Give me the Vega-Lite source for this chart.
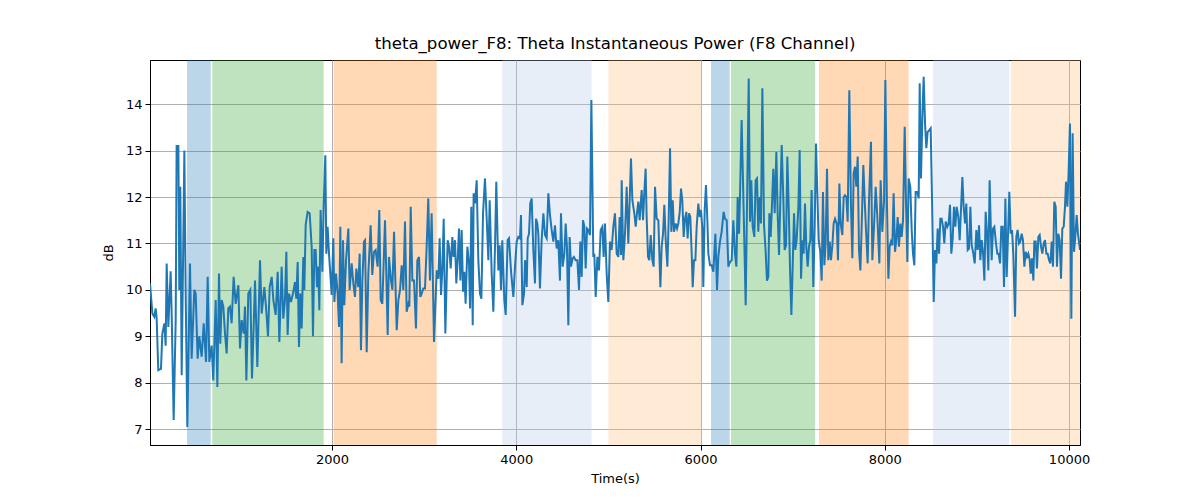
{
  "$schema": "https://vega.github.io/schema/vega-lite/v6.json",
  "width": 930,
  "height": 385,
  "autosize": {"type": "none"},
  "padding": {"left": 150, "top": 60, "right": 120, "bottom": 55},
  "background": "white",
  "title": {"text": "theta_power_F8: Theta Instantaneous Power (F8 Channel)", "font": "DejaVu Sans", "fontSize": 16.6, "fontWeight": "normal", "color": "black", "offset": 7},
  "config": {
    "view": {"stroke": "black", "strokeWidth": 1},
    "axis": {"domainColor": "black", "tickColor": "black", "labelFont": "DejaVu Sans", "labelFontSize": 13, "labelColor": "black", "titleFont": "DejaVu Sans", "titleFontSize": 13, "titleFontWeight": "normal", "titleColor": "black", "gridColor": "#b0b0b0", "gridWidth": 1, "tickSize": 5, "labelPadding": 3}
  },
  "datasets": {
    "bands": [
      {"start": 426, "end": 683, "kind": "A"},
      {"start": 700, "end": 1909, "kind": "B"},
      {"start": 2018, "end": 3136, "kind": "C"},
      {"start": 3848, "end": 4818, "kind": "D"},
      {"start": 4999, "end": 6013, "kind": "E"},
      {"start": 6114, "end": 6317, "kind": "A"},
      {"start": 6331, "end": 7243, "kind": "B"},
      {"start": 7286, "end": 8259, "kind": "C"},
      {"start": 8524, "end": 9352, "kind": "D"},
      {"start": 9370, "end": 10119, "kind": "E"}
    ],
    "series": [
      {"t":24,"v":10.14},{"t":50,"v":9.49},{"t":71,"v":9.42},{"t":85,"v":9.6},{"t":96,"v":9.4},{"t":114,"v":8.27},{"t":143,"v":8.3},{"t":158,"v":9.06},{"t":180,"v":9.28},{"t":194,"v":8.8},{"t":205,"v":10.57},{"t":223,"v":9.2},{"t":248,"v":10.4},{"t":259,"v":9.5},{"t":281,"v":7.2},{"t":303,"v":9.35},{"t":313,"v":13.1},{"t":332,"v":13.1},{"t":342,"v":10.0},{"t":353,"v":12.22},{"t":368,"v":8.16},{"t":397,"v":13.0},{"t":411,"v":10.0},{"t":429,"v":7.05},{"t":458,"v":10.57},{"t":476,"v":8.52},{"t":505,"v":10.0},{"t":520,"v":9.92},{"t":541,"v":8.52},{"t":559,"v":9.0},{"t":585,"v":8.56},{"t":607,"v":9.28},{"t":632,"v":8.45},{"t":650,"v":10.28},{"t":668,"v":8.45},{"t":693,"v":8.8},{"t":711,"v":8.05},{"t":737,"v":9.78},{"t":755,"v":7.91},{"t":773,"v":10.35},{"t":787,"v":8.84},{"t":802,"v":9.78},{"t":820,"v":9.64},{"t":838,"v":9.06},{"t":856,"v":8.63},{"t":874,"v":9.6},{"t":892,"v":9.64},{"t":910,"v":9.28},{"t":932,"v":10.28},{"t":954,"v":9.7},{"t":983,"v":10.1},{"t":1001,"v":8.74},{"t":1019,"v":9.35},{"t":1041,"v":9.06},{"t":1055,"v":9.64},{"t":1070,"v":8.05},{"t":1091,"v":9.92},{"t":1113,"v":10.0},{"t":1131,"v":8.09},{"t":1149,"v":9.2},{"t":1164,"v":10.2},{"t":1189,"v":8.34},{"t":1218,"v":10.64},{"t":1236,"v":9.49},{"t":1265,"v":10.06},{"t":1283,"v":9.64},{"t":1305,"v":9.0},{"t":1323,"v":10.06},
      {"t":1345,"v":10.28},{"t":1363,"v":9.78},{"t":1388,"v":9.46},{"t":1410,"v":10.39},{"t":1428,"v":8.88},{"t":1453,"v":10.5},{"t":1471,"v":9.38},{"t":1489,"v":9.78},{"t":1504,"v":10.82},{"t":1518,"v":9.03},{"t":1533,"v":9.92},{"t":1554,"v":9.74},{"t":1576,"v":9.92},{"t":1598,"v":10.17},{"t":1612,"v":9.81},{"t":1627,"v":10.6},{"t":1641,"v":8.77},{"t":1656,"v":9.92},{"t":1670,"v":9.17},{"t":1688,"v":10.71},{"t":1699,"v":10.0},{"t":1714,"v":11.4},{"t":1735,"v":11.68},{"t":1757,"v":11.65},{"t":1779,"v":10.93},{"t":1793,"v":9.0},{"t":1808,"v":10.86},{"t":1822,"v":10.86},{"t":1837,"v":10.06},{"t":1851,"v":10.5},{"t":1862,"v":9.56},{"t":1876,"v":11.72},{"t":1895,"v":10.39},{"t":1909,"v":11.79},{"t":1927,"v":12.9},{"t":1938,"v":10.78},{"t":1952,"v":11.36},{"t":1967,"v":10.78},{"t":1981,"v":10.35},{"t":1996,"v":9.89},{"t":2014,"v":11.11},{"t":2025,"v":9.74},{"t":2043,"v":10.35},{"t":2061,"v":9.92},{"t":2076,"v":9.2},{"t":2090,"v":11.36},{"t":2104,"v":8.42},{"t":2119,"v":11.07},{"t":2133,"v":9.67},{"t":2152,"v":10.64},{"t":2177,"v":11.32},{"t":2191,"v":10.0},{"t":2213,"v":10.57},{"t":2231,"v":10.14},{"t":2249,"v":9.85},{"t":2264,"v":10.46},{"t":2285,"v":10.06},{"t":2300,"v":10.78},{"t":2314,"v":8.7},{"t":2329,"v":10.2},{"t":2347,"v":11.04},{"t":2358,"v":11.07},{"t":2376,"v":8.66},{"t":2394,"v":10.35},{"t":2419,"v":11.39},{"t":2437,"v":10.32},{"t":2455,"v":10.82},{"t":2473,"v":10.86},{"t":2495,"v":10.5},{"t":2513,"v":11.72},{"t":2528,"v":9.78},{"t":2546,"v":9.7},{"t":2560,"v":10.57},{"t":2575,"v":11.5},{"t":2589,"v":10.35},{"t":2604,"v":9.03},{"t":2618,"v":10.71},
      {"t":2640,"v":10.2},{"t":2655,"v":10.0},{"t":2673,"v":11.25},{"t":2702,"v":9.13},{"t":2720,"v":9.78},{"t":2738,"v":10.0},{"t":2756,"v":10.53},{"t":2774,"v":10.0},{"t":2792,"v":11.47},{"t":2810,"v":9.53},{"t":2828,"v":9.7},{"t":2839,"v":9.64},{"t":2854,"v":11.79},{"t":2872,"v":10.2},{"t":2890,"v":10.2},{"t":2911,"v":9.17},{"t":2926,"v":10.64},{"t":2944,"v":10.71},{"t":2958,"v":9.85},{"t":2973,"v":9.92},{"t":2991,"v":10.03},{"t":3009,"v":10.03},{"t":3027,"v":10.93},{"t":3045,"v":11.97},{"t":3063,"v":10.2},{"t":3081,"v":11.65},{"t":3107,"v":8.88},{"t":3136,"v":10.42},{"t":3154,"v":10.24},{"t":3168,"v":11.11},{"t":3183,"v":9.89},{"t":3197,"v":10.42},{"t":3212,"v":11.53},{"t":3230,"v":9.06},{"t":3255,"v":11.07},{"t":3270,"v":10.93},{"t":3288,"v":10.46},{"t":3306,"v":11.14},{"t":3320,"v":10.71},{"t":3335,"v":11.07},{"t":3349,"v":10.14},{"t":3364,"v":10.64},{"t":3378,"v":11.32},{"t":3393,"v":10.2},{"t":3407,"v":11.29},{"t":3422,"v":9.96},{"t":3436,"v":10.39},{"t":3450,"v":9.7},{"t":3469,"v":10.93},{"t":3487,"v":10.57},{"t":3498,"v":9.6},{"t":3512,"v":11.79},{"t":3527,"v":9.24},{"t":3537,"v":12.08},{"t":3552,"v":11.86},{"t":3570,"v":12.36},{"t":3588,"v":10.64},{"t":3606,"v":9.92},{"t":3621,"v":9.81},{"t":3639,"v":11.65},{"t":3660,"v":12.4},{"t":3678,"v":11.57},{"t":3697,"v":10.64},{"t":3711,"v":11.93},{"t":3733,"v":10.35},{"t":3751,"v":9.53},{"t":3769,"v":10.93},{"t":3783,"v":12.33},{"t":3805,"v":10.42},{"t":3820,"v":10.96},{"t":3834,"v":10.0},{"t":3848,"v":11.07},{"t":3870,"v":9.78},{"t":3885,"v":9.46},{"t":3906,"v":11.07},{"t":3921,"v":11.11},
      {"t":3943,"v":10.4},{"t":3968,"v":9.85},{"t":3986,"v":10.5},{"t":4004,"v":11.04},{"t":4022,"v":11.14},{"t":4040,"v":11.11},{"t":4051,"v":11.61},{"t":4066,"v":9.67},{"t":4084,"v":9.92},{"t":4095,"v":10.64},{"t":4113,"v":10.06},{"t":4124,"v":11.11},{"t":4138,"v":11.21},{"t":4152,"v":11.86},{"t":4167,"v":11.97},{"t":4185,"v":10.86},{"t":4203,"v":10.14},{"t":4214,"v":11.53},{"t":4228,"v":11.43},{"t":4239,"v":11.21},{"t":4257,"v":10.03},{"t":4275,"v":11.07},{"t":4294,"v":11.65},{"t":4312,"v":11.18},{"t":4330,"v":11.11},{"t":4348,"v":12.08},{"t":4366,"v":11.61},{"t":4384,"v":11.29},{"t":4402,"v":11.04},{"t":4420,"v":11.39},{"t":4438,"v":10.89},{"t":4456,"v":11.07},{"t":4474,"v":10.2},{"t":4485,"v":11.65},{"t":4503,"v":10.5},{"t":4522,"v":10.78},{"t":4536,"v":11.43},{"t":4550,"v":10.93},{"t":4565,"v":9.24},{"t":4579,"v":11.14},{"t":4594,"v":10.5},{"t":4612,"v":10.68},{"t":4626,"v":10.71},{"t":4644,"v":10.64},{"t":4663,"v":10.64},{"t":4681,"v":10.0},{"t":4695,"v":11.04},{"t":4710,"v":10.28},{"t":4724,"v":11.5},{"t":4739,"v":11.36},{"t":4753,"v":10.46},{"t":4768,"v":11.32},{"t":4782,"v":11.29},{"t":4800,"v":11.18},{"t":4815,"v":14.09},{"t":4836,"v":10.71},{"t":4847,"v":10.78},{"t":4862,"v":9.85},{"t":4880,"v":10.71},{"t":4898,"v":10.42},{"t":4916,"v":11.29},{"t":4934,"v":11.36},{"t":4948,"v":10.71},{"t":4963,"v":11.43},{"t":4981,"v":10.35},{"t":4999,"v":9.74},{"t":5017,"v":11.04},{"t":5035,"v":10.86},{"t":5053,"v":11.36},{"t":5071,"v":11.65},{"t":5090,"v":10.78},{"t":5108,"v":10.71},{"t":5122,"v":11.57},{"t":5137,"v":10.75},{"t":5144,"v":12.36},{"t":5162,"v":10.64},{"t":5180,"v":11.21},{"t":5198,"v":12.22},{"t":5216,"v":11.0},
      {"t":5245,"v":12.83},{"t":5260,"v":11.93},{"t":5281,"v":11.65},{"t":5296,"v":11.36},{"t":5310,"v":11.65},{"t":5325,"v":11.9},{"t":5339,"v":11.5},{"t":5361,"v":12.15},{"t":5376,"v":11.5},{"t":5390,"v":12.11},{"t":5404,"v":12.61},{"t":5415,"v":11.57},{"t":5430,"v":10.71},{"t":5444,"v":10.64},{"t":5459,"v":11.18},{"t":5477,"v":10.64},{"t":5491,"v":10.5},{"t":5506,"v":12.22},{"t":5524,"v":11.53},{"t":5542,"v":11.5},{"t":5564,"v":10.06},{"t":5578,"v":10.93},{"t":5593,"v":11.21},{"t":5607,"v":11.83},{"t":5622,"v":11.07},{"t":5640,"v":10.5},{"t":5654,"v":11.5},{"t":5669,"v":13.05},{"t":5683,"v":11.25},{"t":5698,"v":11.93},{"t":5712,"v":11.25},{"t":5730,"v":11.43},{"t":5745,"v":11.32},{"t":5759,"v":11.43},{"t":5774,"v":11.68},{"t":5788,"v":12.18},{"t":5802,"v":11.93},{"t":5817,"v":11.14},{"t":5831,"v":11.53},{"t":5846,"v":11.68},{"t":5860,"v":11.11},{"t":5875,"v":11.65},{"t":5889,"v":11.57},{"t":5904,"v":10.78},{"t":5915,"v":10.06},{"t":5929,"v":10.64},{"t":5944,"v":10.64},{"t":5958,"v":11.36},{"t":5976,"v":11.86},{"t":5991,"v":11.57},{"t":6005,"v":11.72},{"t":6020,"v":11.32},{"t":6030,"v":10.06},{"t":6045,"v":11.72},{"t":6059,"v":12.26},{"t":6074,"v":11.5},{"t":6085,"v":10.78},{"t":6103,"v":10.53},{"t":6121,"v":10.53},{"t":6139,"v":10.39},{"t":6161,"v":11.21},{"t":6179,"v":10.0},{"t":6193,"v":10.71},{"t":6211,"v":11.04},{"t":6229,"v":11.25},{"t":6251,"v":11.68},{"t":6266,"v":11.53},{"t":6284,"v":11.5},{"t":6302,"v":10.5},{"t":6320,"v":10.6},{"t":6338,"v":10.64},{"t":6356,"v":11.5},{"t":6374,"v":10.78},{"t":6389,"v":10.5},{"t":6403,"v":12.0},{"t":6418,"v":11.21},{"t":6428,"v":12.0},{"t":6446,"v":13.66},{"t":6468,"v":11.72},
      {"t":6490,"v":9.67},{"t":6523,"v":14.55},{"t":6537,"v":11.47},{"t":6551,"v":12.36},{"t":6566,"v":11.36},{"t":6584,"v":11.14},{"t":6598,"v":12.36},{"t":6613,"v":12.4},{"t":6627,"v":11.25},{"t":6642,"v":12.0},{"t":6656,"v":11.43},{"t":6671,"v":14.34},{"t":6689,"v":11.39},{"t":6707,"v":10.82},{"t":6721,"v":10.2},{"t":6736,"v":10.28},{"t":6747,"v":11.65},{"t":6761,"v":11.14},{"t":6772,"v":11.65},{"t":6790,"v":12.61},{"t":6805,"v":11.65},{"t":6823,"v":12.97},{"t":6837,"v":11.65},{"t":6852,"v":10.75},{"t":6866,"v":11.93},{"t":6881,"v":13.12},{"t":6899,"v":11.93},{"t":6913,"v":10.86},{"t":6928,"v":10.96},{"t":6942,"v":12.87},{"t":6957,"v":11.79},{"t":6971,"v":10.5},{"t":6986,"v":9.46},{"t":7000,"v":10.5},{"t":7015,"v":11.65},{"t":7029,"v":10.86},{"t":7043,"v":11.07},{"t":7062,"v":11.79},{"t":7076,"v":13.01},{"t":7091,"v":10.24},{"t":7105,"v":11.07},{"t":7119,"v":10.78},{"t":7134,"v":11.86},{"t":7148,"v":10.93},{"t":7163,"v":10.5},{"t":7177,"v":10.93},{"t":7192,"v":11.07},{"t":7206,"v":12.15},{"t":7224,"v":10.06},{"t":7239,"v":11.36},{"t":7253,"v":13.15},{"t":7268,"v":12.08},{"t":7282,"v":11.07},{"t":7300,"v":10.82},{"t":7315,"v":10.2},{"t":7329,"v":12.11},{"t":7344,"v":10.53},{"t":7358,"v":11.0},{"t":7373,"v":12.61},{"t":7387,"v":10.64},{"t":7402,"v":11.04},{"t":7416,"v":10.64},{"t":7431,"v":10.96},{"t":7445,"v":11.43},{"t":7460,"v":11.53},{"t":7478,"v":11.43},{"t":7492,"v":10.64},{"t":7507,"v":12.29},{"t":7521,"v":11.43},{"t":7539,"v":11.18},{"t":7554,"v":12.0},{"t":7568,"v":12.04},{"t":7583,"v":12.0},{"t":7597,"v":11.47},{"t":7615,"v":14.3},{"t":7633,"v":11.79},{"t":7648,"v":10.68},{"t":7662,"v":12.51},{"t":7677,"v":12.65},{"t":7691,"v":12.22},{"t":7706,"v":12.87},{"t":7720,"v":10.86},{"t":7735,"v":10.42},{"t":7749,"v":11.36},{"t":7767,"v":12.69},{"t":7782,"v":11.93},{"t":7796,"v":11.29},{"t":7814,"v":10.57},{"t":7829,"v":11.93},
      {"t":7850,"v":13.19},{"t":7865,"v":10.64},{"t":7883,"v":11.36},{"t":7901,"v":12.22},{"t":7919,"v":11.57},{"t":7941,"v":10.57},{"t":7955,"v":12.36},{"t":7973,"v":11.25},{"t":7992,"v":11.93},{"t":8006,"v":14.52},{"t":8024,"v":11.79},{"t":8039,"v":10.24},{"t":8053,"v":10.93},{"t":8067,"v":11.04},{"t":8082,"v":10.96},{"t":8096,"v":12.08},{"t":8111,"v":10.82},{"t":8125,"v":11.07},{"t":8140,"v":11.57},{"t":8154,"v":10.93},{"t":8169,"v":11.43},{"t":8183,"v":11.14},{"t":8198,"v":11.5},{"t":8216,"v":13.51},{"t":8230,"v":11.93},{"t":8245,"v":10.6},{"t":8259,"v":12.4},{"t":8277,"v":12.22},{"t":8292,"v":11.29},{"t":8306,"v":10.78},{"t":8321,"v":10.53},{"t":8335,"v":12.11},{"t":8353,"v":12.11},{"t":8368,"v":11.97},{"t":8379,"v":14.45},{"t":8393,"v":12.4},{"t":8408,"v":13.73},{"t":8422,"v":14.59},{"t":8437,"v":13.58},{"t":8451,"v":13.05},{"t":8465,"v":13.4},{"t":8484,"v":13.44},{"t":8498,"v":13.48},{"t":8513,"v":11.93},{"t":8531,"v":9.74},{"t":8545,"v":10.86},{"t":8560,"v":10.57},{"t":8574,"v":11.32},{"t":8589,"v":10.78},{"t":8603,"v":11.53},{"t":8617,"v":11.53},{"t":8632,"v":11.36},{"t":8646,"v":11.0},{"t":8661,"v":11.47},{"t":8679,"v":11.36},{"t":8693,"v":11.43},{"t":8708,"v":11.83},{"t":8722,"v":10.78},{"t":8737,"v":11.11},{"t":8751,"v":11.79},{"t":8766,"v":11.36},{"t":8780,"v":11.79},{"t":8798,"v":11.57},{"t":8813,"v":11.07},{"t":8827,"v":11.72},{"t":8842,"v":12.43},{"t":8856,"v":11.79},{"t":8871,"v":11.43},{"t":8885,"v":11.86},{"t":8900,"v":10.86},{"t":8914,"v":10.89},{"t":8929,"v":11.79},{"t":8943,"v":10.96},{"t":8961,"v":10.78},{"t":8976,"v":10.57},{"t":8994,"v":11.29},{"t":9008,"v":10.86},{"t":9023,"v":11.39},{"t":9037,"v":10.64},{"t":9052,"v":11.07},{"t":9066,"v":10.82},{"t":9081,"v":10.2},{"t":9095,"v":11.68},{"t":9110,"v":11.21},{"t":9124,"v":10.42},{"t":9138,"v":12.36},
      {"t":9160,"v":10.64},{"t":9175,"v":11.32},{"t":9189,"v":11.36},{"t":9207,"v":11.0},{"t":9222,"v":10.78},{"t":9236,"v":10.78},{"t":9251,"v":10.57},{"t":9265,"v":11.36},{"t":9280,"v":11.36},{"t":9294,"v":10.06},{"t":9309,"v":11.97},{"t":9323,"v":10.28},{"t":9338,"v":11.21},{"t":9352,"v":12.11},{"t":9366,"v":11.21},{"t":9381,"v":11.29},{"t":9395,"v":10.78},{"t":9414,"v":9.42},{"t":9428,"v":11.14},{"t":9442,"v":11.29},{"t":9457,"v":11.0},{"t":9471,"v":11.04},{"t":9486,"v":11.21},{"t":9500,"v":11.07},{"t":9515,"v":10.5},{"t":9529,"v":10.82},{"t":9544,"v":10.71},{"t":9558,"v":10.78},{"t":9573,"v":10.64},{"t":9584,"v":10.35},{"t":9598,"v":10.68},{"t":9613,"v":10.2},{"t":9623,"v":11.04},{"t":9638,"v":11.04},{"t":9652,"v":10.46},{"t":9667,"v":11.14},{"t":9681,"v":11.18},{"t":9696,"v":10.93},{"t":9710,"v":10.78},{"t":9725,"v":11.0},{"t":9739,"v":11.07},{"t":9754,"v":10.78},{"t":9768,"v":10.78},{"t":9783,"v":10.64},{"t":9797,"v":10.57},{"t":9812,"v":11.04},{"t":9826,"v":10.5},{"t":9840,"v":11.9},{"t":9855,"v":11.79},{"t":9869,"v":10.5},{"t":9884,"v":11.21},{"t":9898,"v":11.07},{"t":9913,"v":10.24},{"t":9927,"v":11.32},{"t":9942,"v":11.36},{"t":9956,"v":11.79},{"t":9967,"v":12.33},{"t":9982,"v":11.79},{"t":9996,"v":12.58},{"t":10010,"v":13.58},{"t":10025,"v":9.38},{"t":10039,"v":13.37},{"t":10054,"v":10.82},{"t":10068,"v":11.14},{"t":10083,"v":11.61},{"t":10097,"v":11.21},{"t":10119,"v":10.86}
    ]
  },
  "layer": [
    {
      "data": {"name": "bands"},
      "mark": {"type": "rect", "opacity": 0.3, "strokeWidth": 0},
      "encoding": {
        "x": {"field": "start", "type": "quantitative", "scale": {"domain": [24, 10119], "nice": false, "zero": false}, "axis": {"title": "Time(s)", "values": [2000, 4000, 6000, 8000, 10000], "format": "d", "titlePadding": 6}},
        "x2": {"field": "end"},
        "color": {"field": "kind", "type": "nominal", "legend": null, "scale": {"domain": ["A", "B", "C", "D", "E"], "range": ["#1f77b4", "#2ca02c", "#ff7f0e", "#aec7e8", "#ffbb78"]}}
      }
    },
    {
      "data": {"name": "series"},
      "mark": {"type": "line", "color": "#1f77b4", "strokeWidth": 2, "clip": true},
      "encoding": {
        "x": {"field": "t", "type": "quantitative"},
        "y": {"field": "v", "type": "quantitative", "scale": {"domain": [6.66, 14.95], "nice": false, "zero": false}, "axis": {"title": "dB", "values": [7, 8, 9, 10, 11, 12, 13, 14], "titlePadding": 10}}
      }
    }
  ]
}
